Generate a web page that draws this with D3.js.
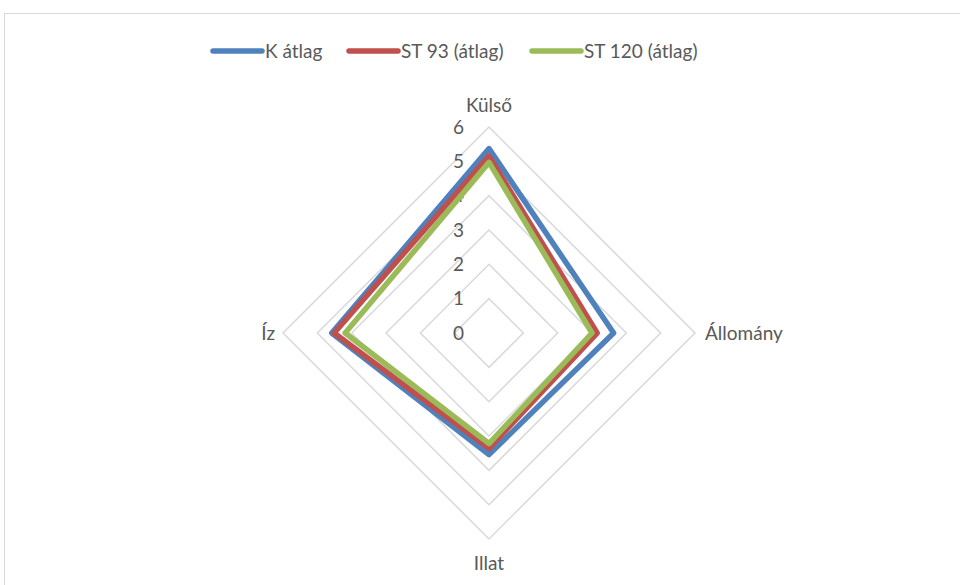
<!DOCTYPE html>
<html>
<head>
<meta charset="utf-8">
<script src="https://cdn.jsdelivr.net/npm/d3@7"></script>
<style>
  html, body { margin: 0; padding: 0; background: #fff; }
  svg { display: block; }
  text { font-family: Lato, "Open Sans", "Liberation Sans", sans-serif; fill: #595959; }
</style>
</head>
<body>
<svg id="chart" width="960" height="585"></svg>
<script>
// Sensory attributes (radar axes), clockwise from the top
const categories = ["Külső", "Állomány", "Illat", "Íz"];
const seriesNames = ["K átlag", "ST 93 (átlag)", "ST 120 (átlag)"];
const kAtlag   = [5.37, 3.63, 3.54, 4.58];
const st93     = [5.15, 3.15, 3.36, 4.51];
const st120    = [4.97, 3.00, 3.22, 4.19];
const seriesColors = ["#4F81BD", "#C0504D", "#9BBB59"];
const tickValues = [0, 1, 2, 3, 4, 5, 6];

const seriesValues = [kAtlag, st93, st120];

const svg = d3.select("#chart");
const cx = 489, cy = 333;

// Chart-area frame
svg.append("rect")
  .attr("x", 4.5).attr("y", 13.5)
  .attr("width", 970).attr("height", 600)
  .attr("fill", "none").attr("stroke", "#d9d9d9").attr("stroke-width", 1);

const r = d3.scaleLinear().domain([0, 6]).range([0, 206]);
const angle = d3.scalePoint().domain(categories).range([0, 2 * Math.PI * 3 / 4]);

const g = svg.append("g").attr("transform", `translate(${cx},${cy})`);

// Grid rings (diamonds)
const ring = d3.lineRadial()
  .angle(d => angle(d.c))
  .radius(d => r(d.v))
  .curve(d3.curveLinearClosed);

g.selectAll("path.grid")
  .data(tickValues.filter(t => t > 0))
  .join("path")
  .attr("class", "grid")
  .attr("d", t => ring(categories.map(c => ({ c, v: t }))))
  .attr("fill", "none")
  .attr("stroke", "#d9d9d9")
  .attr("stroke-width", 1.5);

// Value tick labels along the top axis
g.selectAll("text.tick")
  .data(tickValues)
  .join("text")
  .attr("class", "tick")
  .attr("x", -25)
  .attr("y", t => -r(t))
  .attr("dy", "0.35em")
  .attr("text-anchor", "end")
  .attr("font-size", 19)
  .text(t => t);

// Series polygons
g.selectAll("path.series")
  .data(seriesValues)
  .join("path")
  .attr("class", "series")
  .attr("d", vals => ring(categories.map((c, i) => ({ c, v: vals[i] }))))
  .attr("fill", "none")
  .attr("stroke", (d, i) => seriesColors[i])
  .attr("stroke-width", 5.5)
  .attr("stroke-linejoin", "round");

// Category labels
const labelPos = {
  "Külső":    { x: 0,    y: -228, anchor: "middle" },
  "Állomány": { x: 216,  y: 0,    anchor: "start" },
  "Illat":    { x: 0,    y: 230,  anchor: "middle" },
  "Íz":       { x: -214, y: 0,    anchor: "end" }
};
g.selectAll("text.cat")
  .data(categories)
  .join("text")
  .attr("class", "cat")
  .attr("x", c => labelPos[c].x)
  .attr("y", c => labelPos[c].y)
  .attr("dy", "0.35em")
  .attr("text-anchor", c => labelPos[c].anchor)
  .attr("font-size", 19)
  .text(c => c);

// Legend
const legendX = [213, 349, 532];
const legend = svg.append("g").selectAll("g")
  .data(seriesNames)
  .join("g")
  .attr("transform", (d, i) => `translate(${legendX[i]},51)`);
legend.append("line")
  .attr("x1", 0).attr("x2", 49)
  .attr("stroke", (d, i) => seriesColors[i])
  .attr("stroke-width", 5.5)
  .attr("stroke-linecap", "round");
legend.append("text")
  .attr("x", 52)
  .attr("dy", "0.35em")
  .attr("font-size", 19)
  .text(d => d);
</script>
</body>
</html>
